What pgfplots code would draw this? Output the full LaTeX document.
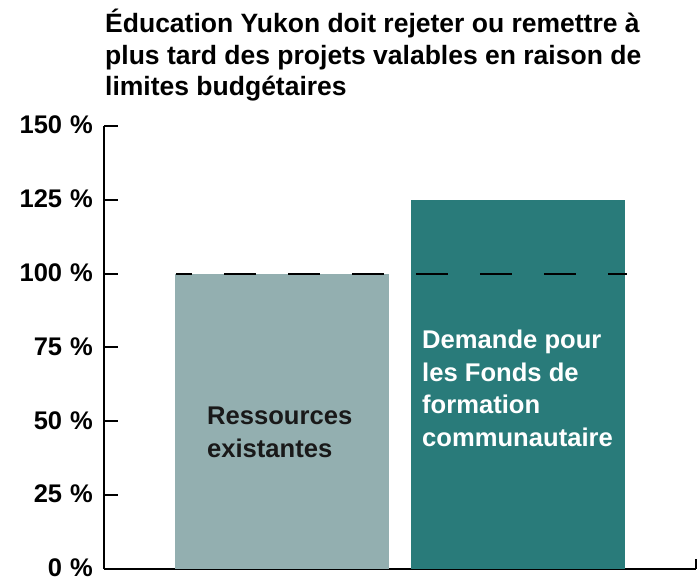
\documentclass[border=0pt]{standalone}
\usepackage{pgfplots}
\pgfplotsset{compat=1.18}
\usepackage{fontspec}
\setmainfont{Liberation Sans}
\definecolor{barA}{RGB}{147,175,176}
\definecolor{barB}{RGB}{41,123,122}
\newcommand{\pct}[1]{#1\hspace{8pt}\%}
\begin{document}
\begin{tikzpicture}[x=1pt,y=1pt]
\path[use as bounding box] (0,0) rectangle (698,581);
\begin{axis}[
  at={(104pt,12pt)}, anchor=south west,
  scale only axis, width=592pt, height=443pt,
  xmin=0.2458, xmax=2.7542, ymin=0, ymax=150,
  axis lines*=left,
  axis line style={line width=2pt, black},
  xtick=\empty,
  extra x ticks={2.7542}, extra x tick labels={},
  extra x tick style={major tick length=10pt, tick align=inside, tick style={line width=2pt, black}},
  ytick={0,25,50,75,100,125,150},
  yticklabels={\pct{0},\pct{25},\pct{50},\pct{75},\pct{100},\pct{125},\pct{150}},
  tick align=inside, major tick length=14pt,
  tick style={line width=2pt, black},
  yticklabel style={font=\bfseries\fontsize{25.5}{25.5}\selectfont, inner sep=0pt, xshift=-11pt, yshift=1pt, anchor=east},
  /pgf/number format/assume math mode=true,
  clip=false,
]
\addplot[ybar, bar width=214pt, bar shift=0pt, fill=barA, draw=none] coordinates {(1,100)};
\addplot[ybar, bar width=214pt, bar shift=0pt, fill=barB, draw=none] coordinates {(2,125)};
\addplot[black, line width=2pt, dash pattern=on 32pt off 32pt, dash phase=16pt] coordinates {(0.5508,100) (2.4619,100)};
\begin{scope}[every node/.style={anchor=base west, inner sep=0pt, font=\bfseries\fontsize{25.6}{25.6}\selectfont}]
\node[text=black!90] at (axis cs:0.682,48.8) {Ressources};
\node[text=black!90] at (axis cs:0.682,37.9) {existantes};
\node[text=white] at (axis cs:1.5932,74.5) {Demande pour};
\node[text=white] at (axis cs:1.5932,63.5) {les Fonds de};
\node[text=white] at (axis cs:1.5932,52.5) {formation};
\node[text=white] at (axis cs:1.5932,41.5) {communautaire};
\end{scope}
\end{axis}
\begin{scope}[every node/.style={anchor=base west, inner sep=0pt, font=\bfseries\fontsize{26.5}{26.5}\selectfont}]
\node at (105,548) {Éducation Yukon doit rejeter ou remettre à};
\node at (105,516) {plus tard des projets valables en raison de};
\node at (105,485) {limites budgétaires};
\end{scope}
\end{tikzpicture}
\end{document}
